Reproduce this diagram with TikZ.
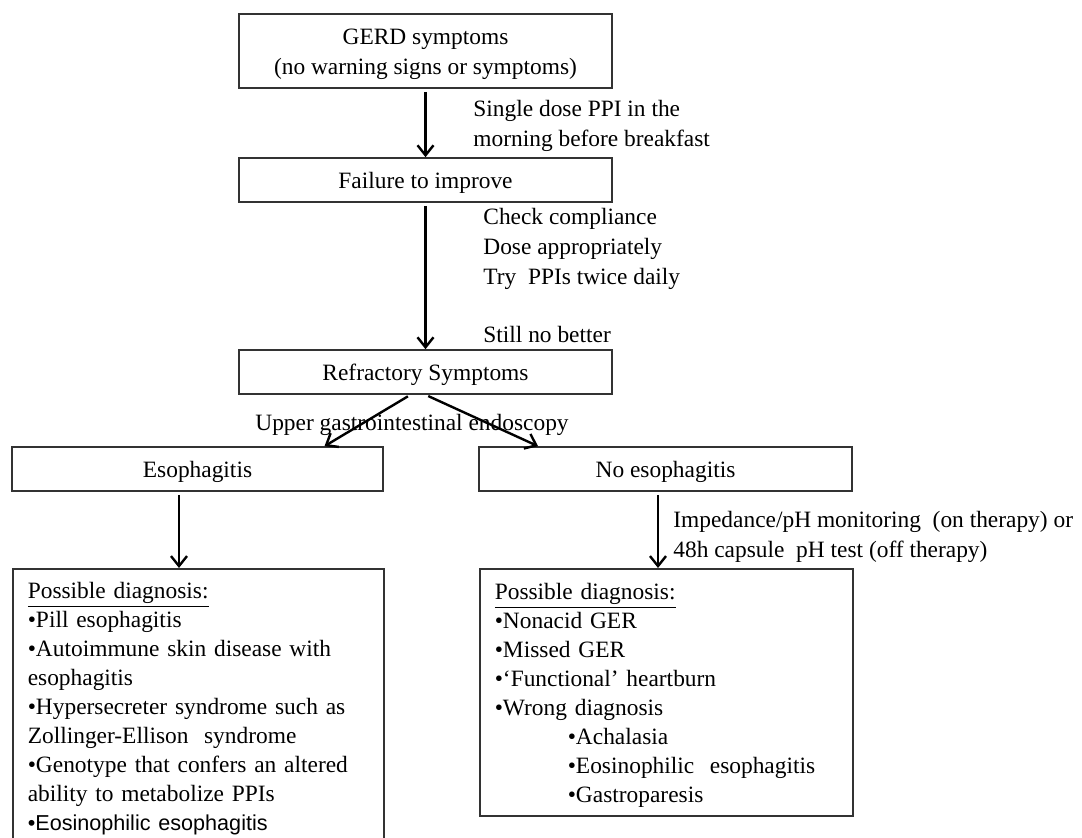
\documentclass[tikz,border=0pt]{standalone}
\usepackage{fontspec}
\setmainfont{Liberation Serif}
\newfontfamily\altsans{Liberation Sans}
\usetikzlibrary{arrows.meta}
\begin{document}
\begin{tikzpicture}[
        x=0.5pt, y=-0.5pt,
        font=\fontsize{11.7}{14.5}\selectfont,
        stepbox/.style={draw=black!80, line width=0.8pt, minimum width=186.5pt, minimum height=22pt, align=center, inner sep=2pt, text height=11pt},
        listbox/.style={draw=black!80, line width=0.8pt, anchor=north west, align=left, inner xsep=7.5pt, inner ysep=0pt, text height=11pt},
        flow/.style={-{Straight Barb[length=5pt, width=8pt]}, line width=1.2pt, shorten <=1.5pt},
        note/.style={anchor=west, align=left, inner sep=0pt, font=\fontsize{11.7}{15}\selectfont}
    ]
        \clip (0, 0) rectangle (1082, 838);

        % Main column
        \node[stepbox, minimum height=37pt, text height=26pt, font=\fontsize{11.7}{15}\selectfont] (gerd) at (425.5, 51) {GERD symptoms\\(no warning signs or symptoms)};
        \node[stepbox] (fail) at (425.5, 180) {Failure to improve};
        \node[stepbox] (refr) at (425.5, 372) {Refractory Symptoms};

        % Endoscopy outcomes
        \node[stepbox, minimum width=185.5pt] (eso) at (197.5, 469) {Esophagitis};
        \node[stepbox] (noeso) at (665.5, 469) {No esophagitis};

        % Possible diagnoses
        \node[listbox, text width=170.5pt, minimum height=137pt] (diagL) at (12, 568) {\underline{Possible diagnosis:}\\
            •Pill esophagitis\\
            •Autoimmune skin disease with\\
            esophagitis\\
            •Hypersecreter syndrome such as\\
            Zollinger-Ellison\ \ syndrome\\
            •Genotype that confers an altered\\
            ability to metabolize PPIs\\
            {\altsans\fontsize{10.8}{14.5}\selectfont •Eosinophilic esophagitis}};
        \node[listbox, text width=171.5pt, minimum height=123.5pt] (diagR) at (479, 568) {\underline{Possible diagnosis:}\\
            •Nonacid GER\\
            •Missed GER\\
            •‘Functional’ heartburn\\
            •Wrong\ diagnosis\\
            \hspace*{36.5pt}•Achalasia\\
            \hspace*{36.5pt}•Eosinophilic\ \ esophagitis\\
            \hspace*{36.5pt}•Gastroparesis};

        % Step labels
        \node[note] (dose) at (473, 126) {Single dose PPI in the\\morning\ before breakfast};
        \node[note] (adjust) at (483, 249) {Check compliance\\Dose appropriately\\Try\ \ PPIs twice daily};
        \node[note] (still) at (483, 335) {Still no better};
        \node[note] (egd) at (255, 425) {Upper gastrointestinal endoscopy};
        \node[note] (phtest) at (673, 537) {Impedance/pH monitoring\ \ (on therapy) or\\48h capsule\ \ pH test (off therapy)};

        % Arrows
        \draw[flow] (gerd) -- (fail);
        \draw[flow] (fail) -- (refr);
        \draw[flow] ([xshift=-7.5pt]refr.south) -- ([xshift=63.5pt]eso.north);
        \draw[flow] (refr.south) -- ([xshift=-63.75pt]noeso.north);
        \draw[flow] ([xshift=-9.25pt]eso.south) -- ([xshift=-9.25pt]eso.south |- diagL.north);
        \draw[flow] ([xshift=-3.75pt]noeso.south) -- ([xshift=-3.75pt]noeso.south |- diagR.north);
    \end{tikzpicture}
\end{document}
